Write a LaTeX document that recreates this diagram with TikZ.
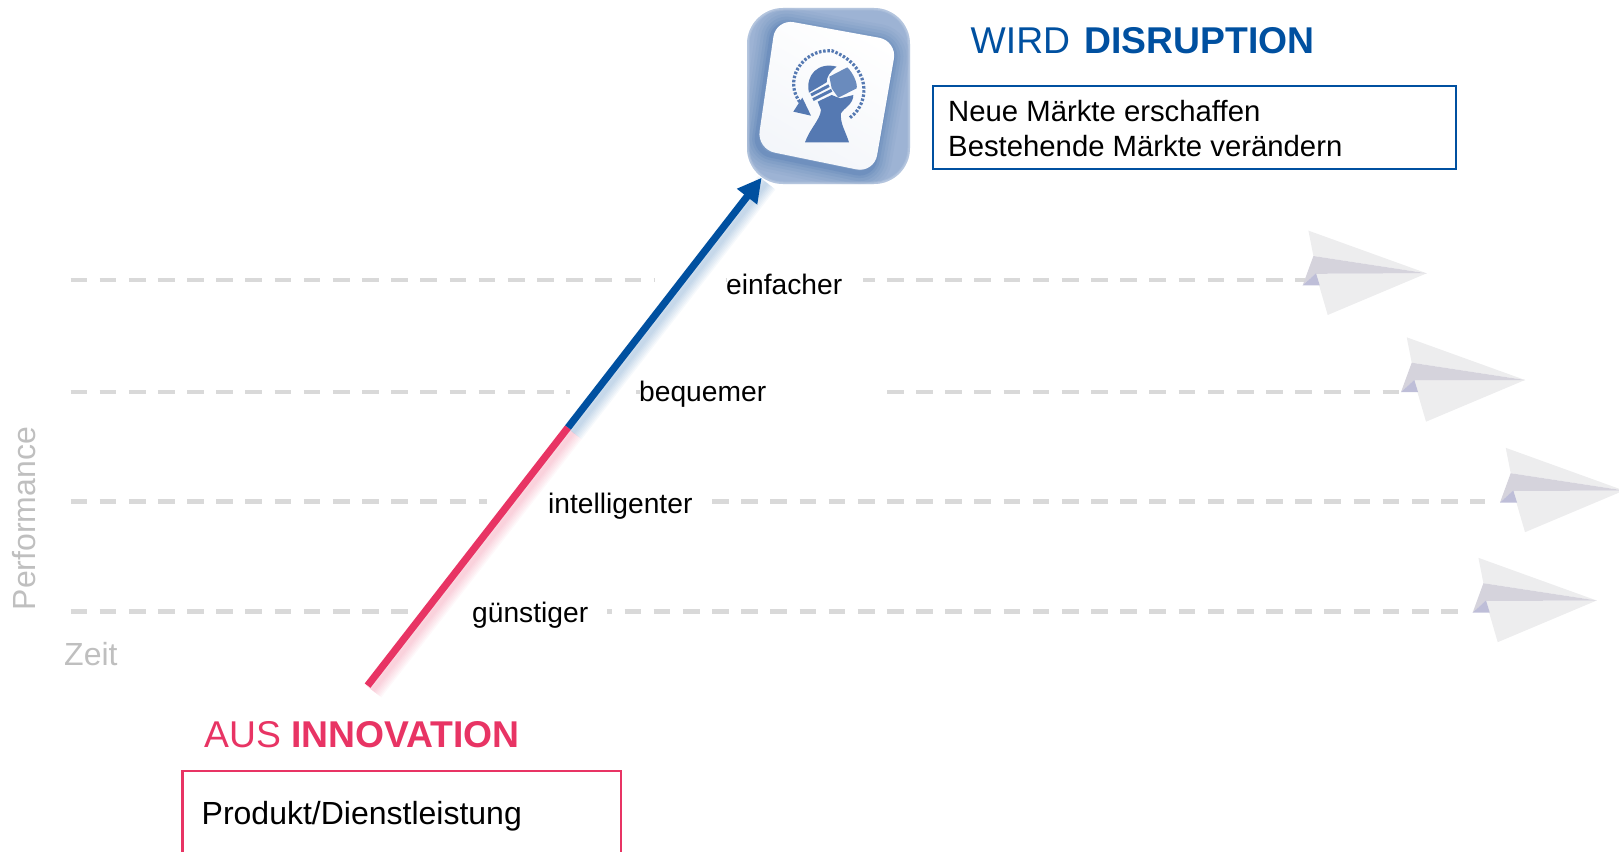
\documentclass[tikz,border=0pt]{standalone}
\usepackage{fontspec}
\setmainfont{Liberation Sans}
\usetikzlibrary{arrows.meta}
\definecolor{pink}{HTML}{E83464}
\definecolor{bluea}{HTML}{0050A0}
\definecolor{iconbg}{HTML}{9DB3D4}
\definecolor{icondark}{HTML}{3F6CAC}
\definecolor{iconfg}{HTML}{5579B2}
\definecolor{iconvisor}{HTML}{6A8BBD}
\definecolor{dashc}{HTML}{D9D9D9}
\definecolor{graytxt}{HTML}{BFBFBF}
\definecolor{planefold}{HTML}{D5D3DC}
\definecolor{planetail}{HTML}{BEBED8}
\definecolor{planewing}{HTML}{EDEDEE}
\tikzset{
 x=1pt,y=-1pt,
 txt/.style={inner sep=0pt,anchor=base west},
 lab/.style={txt,font=\fontsize{28.2}{32}\selectfont},
 head/.style={txt,font=\fontsize{37.3}{40}\selectfont},
 axis/.style={txt,text=graytxt,font=\fontsize{32}{34}\selectfont},
 guide/.style={draw=dashc,line width=4.5pt,dash pattern=on 16.7pt off 12.46pt,dash phase=#1},
 guide/.default=0pt,
 paperplane/.pic={
  \fill[planewing] (-118.3,-42.7) -- (0,0) -- (-113.3,-17.3) -- cycle;
  \fill[planewing] (-111,0.5) -- (0,0) -- (-99,41.7) -- cycle;
  \fill[planefold] (-113.3,-17.3) -- (0,0) -- (-111,0.5) -- (-124,12) -- cycle;
  \fill[planetail] (-124,12) -- (-110.7,0) -- (-107,12) -- cycle;
 }
}
\begin{document}
\begin{tikzpicture}
\useasboundingbox (0,0) rectangle (1619,851);
\clip (0,0) rectangle (1619,851);
% guide end points
\coordinate (a1) at (70.5,280); \coordinate (a2) at (654.5,280);
\coordinate (a5) at (725.5,280); \coordinate (a6) at (727,280);
\coordinate (a3) at (863,280); \coordinate (a4) at (1305,280);
\coordinate (b1) at (70.5,391.8); \coordinate (b2) at (570,391.8);
\coordinate (b5) at (636,391.8); \coordinate (b6) at (640,391.8);
\coordinate (b3) at (887,391.8); \coordinate (b4) at (1400,391.8);
\coordinate (c1) at (70.5,501.7); \coordinate (c2) at (487,501.7);
\coordinate (c3) at (711.7,501.7); \coordinate (c4) at (1485,501.7);
\coordinate (d1) at (70.5,611.7); \coordinate (d2) at (408,611.7);
\coordinate (d3) at (607,611.7); \coordinate (d4) at (1460,611.7);
\foreach \p/\q/\ph in {a1/a2/0,a5/a6/0,a3/a4/792.5,b1/b2/0,b5/b6/0,b3/b4/816.5,c1/c2/0,c3/c4/641.2,d1/d2/0,d3/d4/536.5}
  \draw[guide=\ph pt] (\p) -- (\q);
% planes
\pic at (1426.7,273.3) {paperplane};
\pic at (1525,380) {paperplane};
\pic at (1624,490.5) {paperplane};
\pic at (1596.7,600.5) {paperplane};
% arrow
\coordinate (s) at (367.6,685.6);
\coordinate (m) at (568,427.5);
\coordinate (t) at (761.7,177.7);
\foreach \w in {22,19,16,13,10,7,4}{
  \draw[pink,opacity=0.035,line width=\w pt] ([shift={(5,5)}]s) -- ([shift={(5,5)}]m);
  \draw[bluea,opacity=0.035,line width=\w pt] ([shift={(5,5)}]m) -- ([shift={(5,5)}]t);
}
% icon
\begin{scope}
 \path[clip,rounded corners=36pt] (747,8) rectangle (910,184);
 \fill[iconbg] (740,0) rectangle (920,190);
 \foreach \w/\o in {34/0.05,28/0.06,22/0.08,16/0.10,10/0.13,5/0.18}{
  \draw[icondark,opacity=\o,line width=\w pt,rounded corners=16pt]
   (774,22) -- (895,44) -- (872,176) -- (755,152) -- cycle;
 }
 \foreach \w/\o in {5/0.12,3/0.15}
  \draw[white,opacity=\o,line width=\w pt,rounded corners=36pt] (747,8) rectangle (910,184);
\end{scope}
\shade[rounded corners=18pt,top color=white,bottom color=white!93!iconfg,shading angle=-30] (776,19) -- (897,41) -- (874,173) -- (757,149) -- cycle;
\begin{scope}[shift={(785,45)},x=0.3333pt,y=-0.3333pt]
 \draw[iconfg,line width=3.2pt,dash pattern=on 2.5pt off 1.7pt] (195,218) .. controls (260,170) and (255,60) .. (140,17) .. controls (50,12) and (-10,110) .. (50,178);
 \fill[iconfg] (25,200) -- (78,212) -- (52,158) -- cycle;
 % bust
 \fill[iconfg] (60,292) .. controls (75,250) and (105,225) .. (108,195) -- (98,170) -- (140,150) -- (165,160) -- (205,150) .. controls (205,178) and (178,188) .. (168,205) .. controls (165,235) and (180,255) .. (192,292) -- cycle;
 % skull
 \fill[iconfg] (72,143) .. controls (60,90) and (100,50) .. (155,65) .. controls (135,80) and (125,95) .. (125,112) -- cycle;
 % strap
 \draw[iconfg,line width=3pt] (78,150) -- (132,122);
 \draw[iconfg,line width=3pt] (84,164) -- (140,136);
 % visor
 \fill[iconvisor] (133,95) -- (187,67) .. controls (205,85) and (218,115) .. (215,130) -- (160,158) -- (140,130) -- cycle;
\end{scope}
% arrow main strokes
\draw[pink,line width=7.2pt] (s) -- (m);
\draw[bluea,line width=7.2pt,-{Triangle[length=24pt,width=24pt]}] (m) -- (t);
% texts
\node[head,text=bluea] (tw) at (970.5,53.2) {WIRD\hspace{4pt} \textbf{DISRUPTION}};
\node[head,text=pink] (ta) at (204,747.5) {AUS \textbf{INNOVATION}};
\node[draw=bluea,line width=2.4pt,fill=white,inner sep=0pt,minimum width=523pt,minimum height=83pt,anchor=north west] (bb) at (932,85) {};
\node[lab,font=\fontsize{29.3}{34}\selectfont] (n1) at (948,121) {Neue Märkte erschaffen};
\node[lab,font=\fontsize{29.3}{34}\selectfont] (n2) at (948,156) {Bestehende Märkte verändern};
\node[draw=pink,line width=2.8pt,inner sep=0pt,minimum width=438.5pt,minimum height=120pt,anchor=north west] (pb) at (181,769.5) {};
\node[txt,font=\fontsize{32}{36}\selectfont] (pd) at (201.5,824) {Produkt/Dienstleistung};
\node[lab] (l1) at (726,294) {einfacher};
\node[lab] (l2) at (639,401.6) {bequemer};
\node[lab] (l3) at (548,513.3) {intelligenter};
\node[lab] (l4) at (472,622.5) {günstiger};
\node[axis] (ax) at (64,665) {Zeit};
\node[axis,rotate=90] (ay) at (35,610.5) {Performance};
\end{tikzpicture}
\end{document}
